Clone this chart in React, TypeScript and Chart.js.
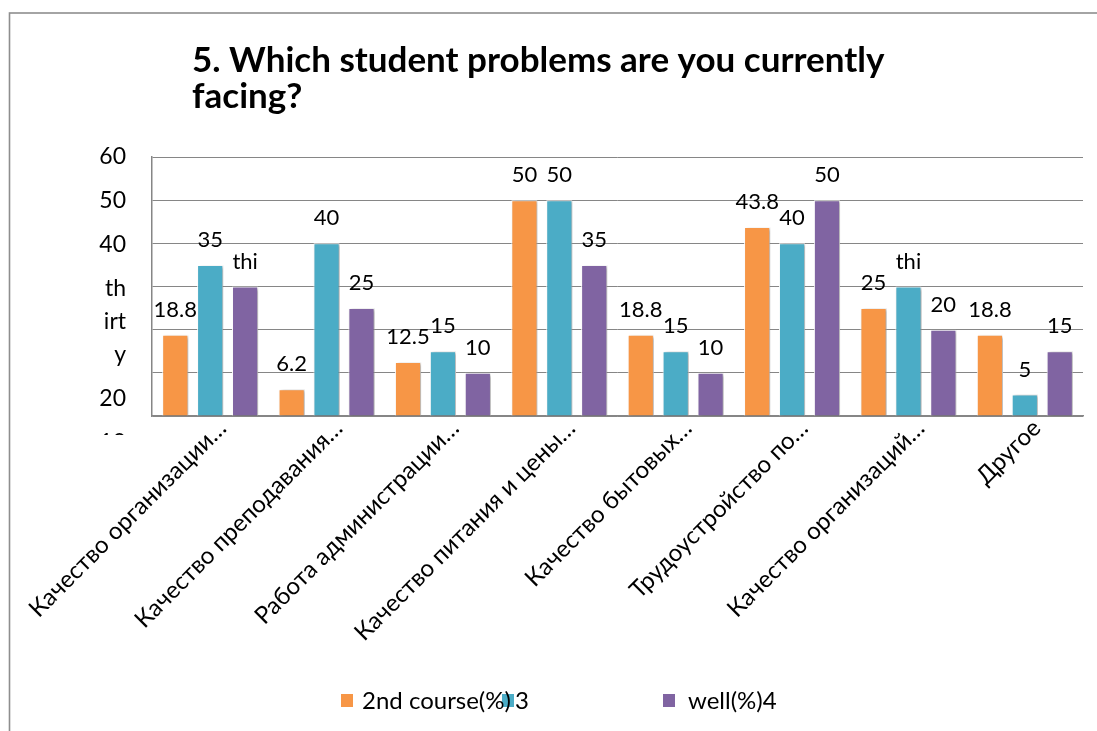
import React, { useEffect, useRef } from 'react';
import { Chart, registerables } from 'chart.js';

Chart.register(...registerables);

const categories = [
  'Качество организации…',
  'Качество преподавания…',
  'Работа администрации…',
  'Качество питания и цены…',
  'Качество бытовых…',
  'Трудоустройство по…',
  'Качество организаций…',
  'Другое',
];
const seriesNames = ['2nd course(%)', '3', 'well(%)4'];
const course2 = [18.8, 6.2, 12.5, 50, 18.8, 43.8, 25, 18.8];
const course3 = [35, 40, 15, 50, 15, 40, 30, 5];
const course4 = [30, 25, 10, 35, 10, 50, 20, 15];
const seriesColors = ['#F79646', '#4BACC6', '#8064A2'];
const yTickValues = [60, 50, 40, 30, 20, 10, 0];
const yTickLabels: Record<number, string[]> = {
  60: ['60'],
  50: ['50'],
  40: ['40'],
  30: ['th', 'irt', 'y'],
  20: ['20'],
  10: ['10'],
  0: ['0'],
};
const titleLines = ['5. Which student problems are you currently', 'facing?'];
const valueText = (v: number) => (v === 30 ? 'thi' : String(v));

const FONT = 'Lato, "Open Sans", sans-serif';

const framePlugin = {
  id: 'frame',
  beforeDraw(chart: any) {
    const ctx = chart.ctx;
    ctx.save();
    ctx.fillStyle = '#ffffff';
    ctx.fillRect(0, 0, chart.width, chart.height);
    ctx.strokeStyle = '#8e8e8e';
    ctx.lineWidth = 1.6;
    ctx.strokeRect(9.5, 13, chart.width + 20, chart.height + 20);
    ctx.restore();
  },
  afterDraw(chart: any) {
    const ctx = chart.ctx;
    ctx.save();
    // title
    ctx.fillStyle = '#000';
    ctx.font = `bold 35px ${FONT}`;
    ctx.textAlign = 'left';
    ctx.textBaseline = 'alphabetic';
    titleLines.forEach((t, i) => ctx.fillText(t, 192, 72 + i * 36));

    // y tick labels (flowing layout as in the original)
    const ys = chart.scales.y;
    const area = chart.chartArea;
    ctx.save();
    ctx.beginPath();
    ctx.rect(0, 0, area.left, area.bottom + 19);
    ctx.clip();
    ctx.font = `23px ${FONT}`;
    ctx.textAlign = 'right';
    ctx.textBaseline = 'middle';
    let prev = -Infinity;
    yTickValues.forEach((v) => {
      const lines = yTickLabels[v];
      const y = Math.max(ys.getPixelForValue(v), prev + 44);
      lines.forEach((ln, k) => {
        const yy = y + k * 33;
        ctx.fillText(ln, 126, yy);
        prev = yy;
      });
    });
    ctx.restore();

    // legend
    ctx.font = `24px ${FONT}`;
    ctx.textBaseline = 'middle';
    ctx.textAlign = 'left';
    const ly = 701;
    const markerX = [341, 502, 663];
    const textX = [362, 515, 688];
    markerX.forEach((mx, i) => {
      ctx.fillStyle = seriesColors[i];
      ctx.fillRect(mx, ly - 7, 12, 13);
    });
    textX.forEach((tx, i) => {
      ctx.fillStyle = '#000';
      ctx.fillText(seriesNames[i], tx, ly);
    });
    ctx.restore();
  },
};

const barDecorPlugin = {
  id: 'barDecor',
  beforeDatasetsDraw(chart: any) {
    const ctx = chart.ctx;
    ctx.save();
    ctx.shadowColor = 'rgba(0,0,0,0.35)';
    ctx.shadowBlur = 3;
    ctx.shadowOffsetX = 2;
    ctx.shadowOffsetY = 1;
  },
  afterDatasetsDraw(chart: any) {
    const ctx = chart.ctx;
    ctx.restore();
    ctx.save();
    ctx.font = `22px ${FONT}`;
    ctx.fillStyle = '#000';
    ctx.textAlign = 'center';
    ctx.textBaseline = 'middle';
    chart.data.datasets.forEach((ds: any, di: number) => {
      const meta = chart.getDatasetMeta(di);
      meta.data.forEach((el: any, i: number) => {
        ctx.fillText(valueText(ds.data[i]), el.x, el.y - 25);
      });
    });
    ctx.restore();
  },
};

export default function App() {
  const ref = useRef<HTMLCanvasElement | null>(null);
  useEffect(() => {
    document.body.style.margin = '0';
    const canvas = ref.current;
    if (!canvas) return;
    const chart = new Chart(canvas, {
      type: 'bar',
      data: {
        labels: categories,
        datasets: [course2, course3, course4].map((d, i) => ({
          label: seriesNames[i],
          data: d,
          backgroundColor: seriesColors[i],
          borderColor: 'rgba(255,255,255,0.95)',
          borderWidth: 1,
          barPercentage: 0.75,
          categoryPercentage: 0.9,
        })),
      },
      options: {
        responsive: false,
        animation: false,
        devicePixelRatio: 1,
        layout: { padding: { left: 0, top: 157, right: 14, bottom: 0 } },
        plugins: {
          legend: { display: false },
          title: { display: false },
          tooltip: { enabled: false },
        },
        scales: {
          x: {
            grid: { display: false },
            border: { display: true, color: '#868686', width: 1.5 },
            ticks: {
              autoSkip: false,
              minRotation: 45,
              maxRotation: 45,
              color: '#000',
              font: { family: FONT, size: 24 },
              padding: -10,
              labelOffset: 12,
            },
            afterFit(scale: any) {
              scale.height = 731 - 416;
            },
          },
          y: {
            min: 0,
            max: 60,
            ticks: { stepSize: 10, display: false },
            grid: { color: '#868686', lineWidth: 1, drawTicks: false },
            border: { display: true, color: '#868686', width: 1.5 },
            afterFit(scale: any) {
              scale.width = 152;
            },
          },
        },
      },
      plugins: [framePlugin, barDecorPlugin],
    });
    return () => chart.destroy();
  }, []);
  return <canvas ref={ref} width={1097} height={731} style={{ display: 'block', width: 1097, height: 731 }} />;
}
